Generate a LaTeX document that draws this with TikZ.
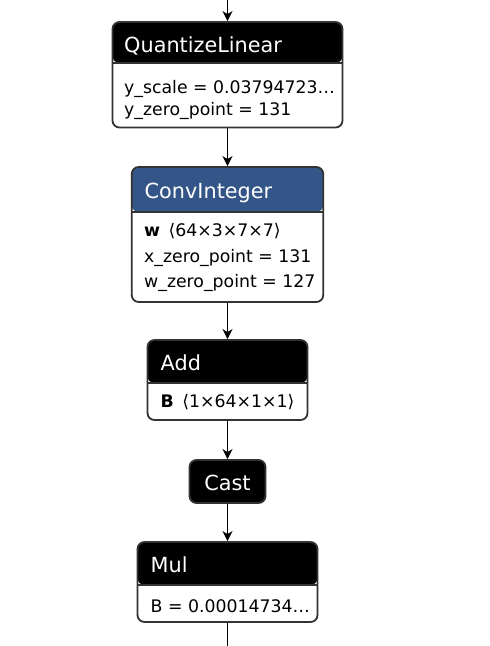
\documentclass[tikz,border=0pt]{standalone}
\usepackage{fontspec}
\setmainfont{DejaVu Sans}
\usetikzlibrary{arrows.meta}
\definecolor{framegray}{HTML}{333333}
\definecolor{layerblue}{HTML}{335588}
\begin{document}
\begin{tikzpicture}[x=1pt,y=-1pt,
	opframe/.style n args={2}{draw=framegray,line width=1.8pt,fill=white,rounded corners=7pt,inner sep=0pt,
		path picture={
			\fill[#1] (path picture bounding box.north west) rectangle ([yshift=-#2]path picture bounding box.north east);
			\draw[framegray,line width=1.5pt] ([yshift=-#2]path picture bounding box.north west) -- ([yshift=-#2]path picture bounding box.north east);
		}},
	castframe/.style={draw=framegray,line width=1.8pt,fill=black,rounded corners=7pt,inner sep=0pt},
	title/.style={text=white,inner sep=0pt,font=\fontsize{20.8}{25}\selectfont},
	attr/.style={text=black,inner sep=0pt,font=\fontsize{17.3}{20}\selectfont},
	flow/.style={line width=1.7pt,-{Stealth[length=10pt,width=10pt,inset=3pt]}}]
	\useasboundingbox (0,0) rectangle (490,646);
	%%%%%%%%%%%%%%%%%%%
	%  QuantizeLinear %
	%%%%%%%%%%%%%%%%%%%
		\node[opframe={black}{41pt},minimum width=230pt,minimum height=105.5pt] (quant) at (227.5,74.75) {};
		\node[title,anchor=base west] (quanttitle) at (124,52.5) {QuantizeLinear};
		\node[attr,anchor=base west] (quantscale) at (124,93) {y\_scale = 0.03794723…};
		\node[attr,anchor=base west] (quantzero) at (124,115) {y\_zero\_point = 131};
	%%%%%%%%%%%%%%%%%%%
	%   ConvInteger   %
	%%%%%%%%%%%%%%%%%%%
		\node[opframe={layerblue}{45pt},minimum width=191.5pt,minimum height=135pt] (conv) at (227.5,234.5) {};
		\node[title,anchor=base west] (convtitle) at (144.5,198) {ConvInteger};
		\node[attr,anchor=base west] (convw) at (144,236) {\textbf{w}\, ⟨64×3×7×7⟩};
		\node[attr,anchor=base west] (convxzero) at (144,262) {x\_zero\_point = 131};
		\node[attr,anchor=base west] (convwzero) at (144,287) {w\_zero\_point = 127};
	%%%%%%%%%%%%%%%%%%%
	%       Add       %
	%%%%%%%%%%%%%%%%%%%
		\node[opframe={black}{43pt},minimum width=160pt,minimum height=80pt] (add) at (227.5,380) {};
		\node[title,anchor=base west] (addtitle) at (160.5,370.5) {Add};
		\node[attr,anchor=base west] (addb) at (160.5,407) {\textbf{B}\, ⟨1×64×1×1⟩};
	%%%%%%%%%%%%%%%%%%%
	%      Cast       %
	%%%%%%%%%%%%%%%%%%%
		\node[castframe,minimum width=76pt,minimum height=43pt] (cast) at (227.5,481.5) {};
		\node[title,anchor=base] (casttitle) at (227.5,490) {Cast};
	%%%%%%%%%%%%%%%%%%%
	%       Mul       %
	%%%%%%%%%%%%%%%%%%%
		\node[opframe={black}{43pt},minimum width=180pt,minimum height=80pt] (mul) at (227.5,582) {};
		\node[title,anchor=base west] (multitle) at (150.5,572) {Mul};
		\node[attr,anchor=base west] (mulb) at (150.5,612) {B = 0.00014734…};
	%%%%%%%%%%%%%%%%%%%
	%      edges      %
	%%%%%%%%%%%%%%%%%%%
		\coordinate (input) at (227.5,0);
		\coordinate (output) at (227.5,646);
		\draw[flow] (input) -- (quant.north);
		\draw[flow] (quant.south) -- (conv.north);
		\draw[flow] (conv.south) -- (add.north);
		\draw[flow] (add.south) -- (cast.north);
		\draw[flow] (cast.south) -- (mul.north);
		\draw[line width=1.7pt] (mul.south) -- (output);
\end{tikzpicture}
\end{document}
